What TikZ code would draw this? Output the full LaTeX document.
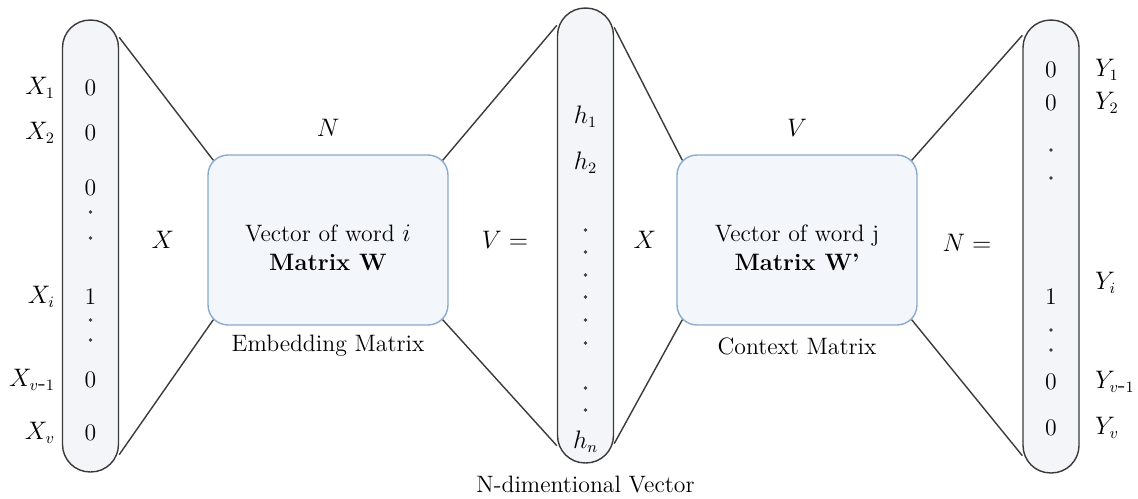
\documentclass[tikz,border=0pt]{standalone}
\usetikzlibrary{calc}
\definecolor{pillfill}{HTML}{F3F5F8}
\definecolor{boxfill}{HTML}{F3F7FB}
\definecolor{boxline}{HTML}{8AAACE}
\definecolor{edge}{HTML}{3A3A3A}
\newcommand{\txt}{\fontsize{13.5pt}{16.5pt}\selectfont}
\begin{document}
\begin{tikzpicture}[x=0.02cm, y=-0.02cm,
    pill/.style={draw=edge, line width=0.8pt, fill=pillfill, rounded corners=0.55cm, minimum width=1.12cm, inner sep=0pt},
    mat/.style={draw=boxline, line width=0.8pt, fill=boxfill, rounded corners=0.4cm, minimum width=4.8cm, minimum height=3.4cm},
    lab/.style={font=\txt, inner sep=1pt},
    vdot/.style={circle, fill=black!75, inner sep=0pt, minimum size=2.2pt},
    link/.style={draw=edge, line width=0.8pt}]
\useasboundingbox (0,0) rectangle (1138,498);
% vectors and matrices
\node[pill, minimum height=9.04cm] (xin) at (90.5,246) {};
\node[pill, minimum height=9.1cm] (hid) at (585.5,235.5) {};
\node[pill, minimum height=9.06cm] (yout) at (1051,246.5) {};
\node[mat] (emb) at (328,240) {};
\node[mat] (ctx) at (797,240) {};
\node[lab, align=center] (embt) at (328,248) {Vector of word $i$\\\textbf{Matrix W}};
\node[lab, align=center] (ctxt) at (797,248) {Vector of word j\\\textbf{Matrix W'}};
% connectors
\draw[link] ($(xin.north east)+(0,18)$) -- ($(emb.north west)+(6,6)$);
\draw[link] ($(xin.south east)+(0,-18)$) -- ($(emb.south west)+(6,-6)$);
\draw[link] ($(emb.north east)+(-6,6)$) -- ($(hid.north west)+(0,18)$);
\draw[link] ($(emb.south east)+(-6,-6)$) -- ($(hid.south west)+(0,-18)$);
\draw[link] ($(hid.north east)+(0,20)$) -- ($(ctx.north west)+(6,6)$);
\draw[link] ($(hid.south east)+(0,-20)$) -- ($(ctx.south west)+(6,-6)$);
\draw[link] ($(ctx.north east)+(-6,6)$) -- ($(yout.north west)+(0,16)$);
\draw[link] ($(ctx.south east)+(-6,-6)$) -- ($(yout.south west)+(0,-18)$);
% input one-hot vector
\foreach \v/\y [count=\k] in {0/88, 0/133, 0/188, 1/297, 0/380, 0/433}
    \node[lab] (xv\k) at (90.5,\y) {\v};
\foreach \y [count=\k] in {212, 238, 320, 340}
    \node[vdot] (xd\k) at (90.5,\y) {};
\foreach \t/\y [count=\k] in {X_1/88, X_2/133, X_i/297, X_{v\mbox{-}1}/380, X_v/433}
    \node[lab, anchor=east] (xl\k) at (57,\y) {$\t$};
% hidden vector
\node[lab] (h1) at (585.5,117) {$h_1$};
\node[lab] (h2) at (585.5,163) {$h_2$};
\node[lab] (hn) at (585.5,442) {$h_n$};
\foreach \y [count=\k] in {230, 252, 275, 297, 320, 343, 388, 410}
    \node[vdot] (hd\k) at (585.5,\y) {};
% output one-hot vector
\foreach \v/\y [count=\k] in {0/70, 0/103, 1/297, 0/382, 0/428}
    \node[lab] (yv\k) at (1051,\y) {\v};
\foreach \y [count=\k] in {150, 178, 330, 350}
    \node[vdot] (yd\k) at (1051,\y) {};
\foreach \t/\y [count=\k] in {Y_1/70, Y_2/103, Y_i/283, Y_{v\mbox{-}1}/382, Y_v/428}
    \node[lab, anchor=west] (yl\k) at (1093,\y) {$\t$};
% labels
\node[lab] (n1) at (328,128) {$N$};
\node[lab] (v1) at (797,128) {$V$};
\node[lab] (x1) at (163,240) {$X$};
\node[lab] (veq) at (505,240) {$V =$};
\node[lab] (x2) at (645,240) {$X$};
\node[lab] (neq) at (967,243) {$N =$};
\node[lab] (embl) at (328,346) {Embedding Matrix};
\node[lab] (ctxl) at (797,346) {Context Matrix};
\node[lab] (hidl) at (585.5,485) {N-dimentional Vector};
\end{tikzpicture}
\end{document}
